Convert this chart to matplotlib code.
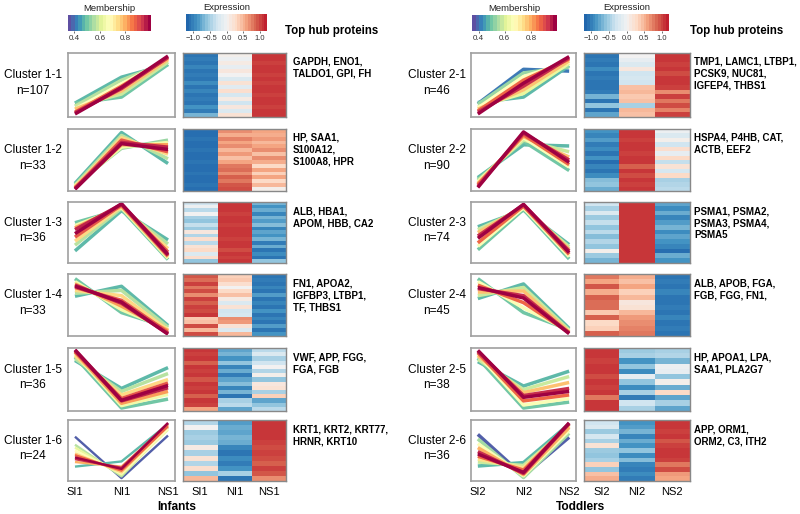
import matplotlib
matplotlib.use('Agg')
import matplotlib.pyplot as plt
import numpy as np
from matplotlib.colors import LinearSegmentedColormap, Normalize
from matplotlib.cm import ScalarMappable

plt.rcParams['font.family'] = ['Liberation Sans', 'DejaVu Sans']

# ---------------- data ----------------
conditions_infants = ['SI1', 'NI1', 'NS1']
conditions_toddlers = ['SI2', 'NI2', 'NS2']

clusters_infants = ['Cluster 1-1', 'Cluster 1-2', 'Cluster 1-3', 'Cluster 1-4', 'Cluster 1-5', 'Cluster 1-6']
n_infants = [107, 33, 36, 33, 36, 24]
hubs_infants = [
    'GAPDH, ENO1,\nTALDO1, GPI, FH',
    'HP, SAA1,\nS100A12,\nS100A8, HPR',
    'ALB, HBA1,\nAPOM, HBB, CA2',
    'FN1, APOA2,\nIGFBP3, LTBP1,\nTF, THBS1',
    'VWF, APP, FGG,\nFGA, FGB',
    'KRT1, KRT2, KRT77,\nHRNR, KRT10',
]
clusters_toddlers = ['Cluster 2-1', 'Cluster 2-2', 'Cluster 2-3', 'Cluster 2-4', 'Cluster 2-5', 'Cluster 2-6']
n_toddlers = [46, 90, 74, 45, 38, 36]
hubs_toddlers = [
    'TMP1, LAMC1, LTBP1,\nPCSK9, NUC81,\nIGFEP4, THBS1',
    'HSPA4, P4HB, CAT,\nACTB, EEF2',
    'PSMA1, PSMA2,\nPSMA3, PSMA4,\nPSMA5',
    'ALB, APOB, FGA,\nFGB, FGG, FN1,',
    'HP, APOA1, LPA,\nSAA1, PLA2G7',
    'APP, ORM1,\nORM2, C3, ITH2',
]

# membership values and scaled profiles (SI, NI, NS) of representative members
memb_1_1 = [0.47, 0.49, 0.56, 0.58, 0.68, 0.78, 0.88, 0.95, 1.0]
prof_1_1 = [[0.20, 0.63, 0.84], [0.20, 0.30, 0.84], [0.15, 0.58, 0.88], [0.15, 0.35, 0.88],
            [0.10, 0.52, 0.92], [0.10, 0.40, 0.92], [0.05, 0.48, 0.95], [0.04, 0.44, 0.96], [0.02, 0.46, 0.98]]
memb_1_2 = [0.47, 0.53, 0.56, 0.64, 0.75, 0.82, 0.90, 0.96, 1.0]
prof_1_2 = [[0.10, 0.97, 0.44], [0.08, 0.70, 0.84], [0.07, 0.92, 0.52], [0.06, 0.72, 0.80],
            [0.04, 0.88, 0.60], [0.03, 0.76, 0.76], [0.02, 0.84, 0.64], [0.01, 0.80, 0.72], [0.00, 0.78, 0.68]]
memb_1_3 = [0.47, 0.49, 0.56, 0.64, 0.75, 0.82, 0.90, 0.96, 1.0]
prof_1_3 = [[0.18, 0.88, 0.37], [0.67, 0.90, 0.03], [0.28, 0.92, 0.30], [0.62, 0.93, 0.05],
            [0.35, 0.95, 0.22], [0.58, 0.96, 0.08], [0.42, 0.98, 0.16], [0.55, 0.99, 0.10], [0.48, 1.00, 0.12]]
memb_1_4 = [0.47, 0.49, 0.56, 0.64, 0.75, 0.82, 0.90, 0.96, 1.0]
prof_1_4 = [[0.65, 0.82, 0.15], [0.95, 0.37, 0.12], [0.70, 0.75, 0.12], [0.90, 0.42, 0.09],
            [0.75, 0.66, 0.07], [0.86, 0.48, 0.06], [0.80, 0.58, 0.03], [0.84, 0.53, 0.01], [0.82, 0.55, 0.00]]
memb_1_5 = [0.47, 0.49, 0.56, 0.64, 0.75, 0.82, 0.90, 0.96, 1.0]
prof_1_5 = [[0.82, 0.35, 0.70], [0.88, 0.02, 0.17], [0.85, 0.30, 0.60], [0.93, 0.06, 0.25],
            [0.90, 0.24, 0.50], [0.96, 0.10, 0.30], [0.97, 0.18, 0.44], [0.99, 0.14, 0.36], [1.00, 0.15, 0.40]]
memb_1_6 = [0.37, 0.47, 0.56, 0.62, 0.68, 0.76, 0.80, 0.88, 0.95, 1.0]
prof_1_6 = [[0.74, 0.02, 0.76], [0.22, 0.31, 0.96], [0.60, 0.05, 0.90], [0.55, 0.08, 0.86],
            [0.50, 0.10, 0.88], [0.45, 0.12, 0.93], [0.30, 0.22, 0.95], [0.42, 0.15, 0.92],
            [0.35, 0.20, 0.97], [0.38, 0.18, 0.98]]

memb_2_1 = [0.40, 0.47, 0.53, 0.62, 0.68, 0.78, 0.88, 0.95, 1.0]
prof_2_1 = [[0.19, 0.76, 0.73], [0.21, 0.30, 0.82], [0.18, 0.70, 0.80], [0.14, 0.36, 0.86],
            [0.12, 0.64, 0.88], [0.10, 0.42, 0.90], [0.07, 0.58, 0.93], [0.05, 0.48, 0.95], [0.02, 0.53, 0.97]]
memb_2_2 = [0.47, 0.49, 0.58, 0.66, 0.78, 0.88, 0.95, 1.0]
prof_2_2 = [[0.20, 0.76, 0.74], [0.17, 0.82, 0.32], [0.15, 0.84, 0.64], [0.12, 0.88, 0.38],
            [0.10, 0.90, 0.55], [0.08, 0.93, 0.42], [0.05, 0.96, 0.50], [0.03, 0.98, 0.46]]
memb_2_3 = [0.47, 0.49, 0.58, 0.66, 0.78, 0.88, 0.95, 1.0]
prof_2_3 = [[0.60, 0.89, 0.29], [0.20, 0.90, 0.04], [0.55, 0.92, 0.25], [0.26, 0.93, 0.08],
            [0.50, 0.95, 0.21], [0.32, 0.96, 0.12], [0.44, 0.98, 0.18], [0.40, 0.99, 0.15]]
memb_2_4 = [0.47, 0.49, 0.58, 0.66, 0.78, 0.88, 0.95, 1.0]
prof_2_4 = [[0.61, 0.86, 0.10], [0.95, 0.37, 0.08], [0.66, 0.80, 0.07], [0.90, 0.45, 0.06],
            [0.72, 0.74, 0.04], [0.84, 0.54, 0.03], [0.78, 0.66, 0.02], [0.80, 0.62, 0.01]]
memb_2_5 = [0.47, 0.49, 0.58, 0.66, 0.78, 0.88, 0.95, 1.0]
prof_2_5 = [[0.80, 0.39, 0.64], [0.86, 0.02, 0.12], [0.84, 0.33, 0.55], [0.92, 0.07, 0.18],
            [0.90, 0.28, 0.45], [0.95, 0.14, 0.24], [0.97, 0.23, 0.35], [0.99, 0.20, 0.30]]
memb_2_6 = [0.37, 0.47, 0.54, 0.58, 0.66, 0.74, 0.80, 0.88, 0.95, 1.0]
prof_2_6 = [[0.78, 0.06, 0.73], [0.23, 0.29, 0.96], [0.70, 0.03, 0.80], [0.30, 0.24, 0.92],
            [0.62, 0.06, 0.85], [0.35, 0.20, 0.93], [0.55, 0.08, 0.90], [0.40, 0.16, 0.96],
            [0.48, 0.10, 0.97], [0.44, 0.12, 0.98]]

# heatmap rows (SI, NI, NS), top to bottom
heat_1_1 = [[-1.1, 0.05, 1.1], [-1.05, -0.05, 1.1], [-1.1, 0.1, 1.05], [-1.0, -0.1, 1.1],
            [-1.1, 0.15, 1.1], [-1.05, 0.0, 1.05], [-1.1, -0.2, 1.1], [-0.95, 0.2, 1.05],
            [-1.1, -0.15, 1.1], [-1.0, 0.25, 1.1], [-1.1, -0.25, 1.05], [-1.05, 0.1, 1.1],
            [-1.1, -0.3, 1.1], [-0.9, 0.15, 1.05], [-1.05, -0.2, 1.1], [-0.7, 0.2, 1.1]]
heat_1_2 = [[-1.15, 0.7, 0.6], [-1.15, 0.55, 0.55], [-1.1, 0.75, 0.65], [-1.15, 0.6, 0.5],
            [-1.15, 0.7, 0.6], [-1.1, 0.5, 0.7], [-1.15, 0.65, 0.45], [-1.15, 0.45, 0.7],
            [-1.1, 0.6, 0.55], [-1.15, 0.8, 0.3], [-1.15, 0.85, 0.6], [-1.1, 0.7, 0.35],
            [-1.15, 0.9, 0.6], [-1.15, 0.8, 0.3], [-1.1, 0.95, 0.5], [-1.15, 1.0, 0.05]]
heat_1_3 = [[-0.3, 1.1, -0.7], [-0.05, 1.1, -0.9], [-0.4, 1.1, -0.75], [0.0, 1.05, -1.0],
            [-0.5, 1.1, -0.7], [-0.6, 1.1, -0.85], [-0.35, 1.05, -0.65], [-0.55, 1.1, -1.0],
            [0.15, 1.1, -0.8], [-0.45, 1.1, -0.9], [0.25, 1.05, -0.7], [-0.4, 1.1, -1.05],
            [0.2, 1.1, -0.75], [0.3, 1.0, -1.1], [-0.2, 1.1, -0.95], [0.25, 1.05, -1.1],
            [-0.6, 1.1, -0.6]]
heat_1_4 = [[0.95, 0.35, -1.1], [0.85, 0.4, -1.05], [1.05, 0.25, -1.1], [0.8, 0.0, -1.0],
            [1.0, 0.3, -1.1], [0.7, 0.45, -0.85], [1.05, 0.1, -1.1], [0.9, -0.2, -1.0],
            [1.05, 0.2, -1.1], [1.0, -0.3, -0.9], [1.1, -0.25, -1.1], [0.4, 0.7, -1.0],
            [0.45, 0.65, -1.1], [1.0, 0.2, -0.85], [0.5, -0.2, -1.1], [1.0, 0.5, -0.9]]
heat_1_5 = [[1.1, -0.8, -0.4], [1.05, -0.7, -0.2], [1.1, -0.9, -0.5], [0.9, -0.6, -0.3],
            [1.1, -1.0, 0.0], [1.05, -0.75, -0.45], [1.1, -1.05, 0.05], [0.95, -0.8, -0.6],
            [1.1, -0.65, 0.15], [1.05, -1.0, 0.2], [1.1, -0.7, -0.5], [0.9, -1.1, 0.35],
            [1.1, -0.5, -0.8], [1.05, -0.4, -0.6], [0.6, -0.8, -0.4]]
heat_1_6 = [[-0.45, -0.85, 1.1], [0.0, -0.75, 1.1], [-0.55, -0.8, 1.1], [-0.5, -0.7, 1.1],
            [-0.55, -0.75, 1.05], [0.1, -1.0, 1.0], [-0.5, -1.1, 1.05], [0.2, -0.95, 1.0],
            [-0.45, -1.05, 0.9], [0.25, -0.9, 1.05], [-0.6, -0.5, 0.95], [0.5, -1.1, 0.7]]

heat_2_1 = [[-1.1, 0.0, 1.1], [-1.05, -0.1, 1.1], [-1.1, -0.2, 1.05], [-0.95, 0.15, 1.1],
            [-1.1, -0.3, 1.0], [-1.05, -0.25, 1.1], [-1.1, -0.3, 1.1], [-1.1, 0.45, 1.05],
            [-1.05, 0.5, 0.7], [-0.7, 0.4, 1.05], [-1.1, 0.45, 0.8], [-0.6, -0.5, 1.0],
            [-1.1, 0.5, 0.75], [-0.8, 0.45, 1.05]]
heat_2_2 = [[-0.9, 1.1, -0.05], [-1.0, 1.1, -0.2], [-0.85, 1.05, 0.05], [-1.05, 1.1, -0.3],
            [-0.95, 1.1, 0.25], [-1.1, 1.05, -0.1], [-0.9, 1.1, 0.3], [-1.15, 1.1, -0.35],
            [-1.0, 0.9, 0.2], [-1.1, 1.1, -0.25], [-0.95, 1.0, 0.3], [-0.65, 1.1, -0.5],
            [-0.6, 1.05, -0.45], [-0.75, 1.1, -0.4]]
heat_2_3 = [[-0.3, 1.1, -0.8], [-0.5, 1.1, -0.95], [-0.2, 1.1, -0.75], [-0.55, 1.1, -1.0],
            [-0.35, 1.1, -0.85], [-0.6, 1.1, -0.7], [-0.4, 1.1, -0.95], [-0.65, 1.1, -0.8],
            [-0.45, 1.1, -0.9], [-0.6, 1.1, -1.0], [0.05, 1.1, -1.15], [-0.55, 1.1, -0.75],
            [-0.7, 1.1, -0.9]]
heat_2_4 = [[0.8, 0.55, -1.1], [0.6, 0.45, -1.05], [0.95, 0.6, -1.1], [0.55, 0.35, -1.0],
            [0.9, 0.5, -1.1], [0.85, 0.15, -1.1], [0.85, 0.2, -1.05], [0.4, 0.5, -1.1],
            [0.9, 0.65, -1.0], [0.3, 0.7, -1.1], [0.35, 0.75, -1.05], [0.9, 0.8, -1.1]]
heat_2_5 = [[1.1, -0.55, -0.5], [1.1, -0.5, -0.45], [1.05, -0.9, -0.7], [1.1, -0.6, -0.05],
            [1.1, -0.95, -0.1], [1.0, -0.1, -0.6], [1.1, -0.6, 0.05], [1.05, -0.95, -0.75],
            [1.1, -0.5, 0.3], [0.8, -1.05, -0.8], [1.1, -0.3, -0.5], [1.1, -0.5, -0.8]]
heat_2_6 = [[-0.3, -0.9, 1.1], [-0.2, -0.85, 1.1], [-0.55, -0.7, 1.05], [-0.25, -1.0, 1.1],
            [-0.5, -0.75, 0.95], [0.2, -0.9, 1.05], [-0.55, -0.6, 1.1], [-0.6, -0.95, 1.1],
            [-0.5, -0.65, 1.05], [0.35, -1.0, 0.8], [-0.6, -1.05, 1.0], [0.45, -0.95, 0.65],
            [0.55, -1.05, 0.6]]

memb_infants = [memb_1_1, memb_1_2, memb_1_3, memb_1_4, memb_1_5, memb_1_6]
prof_infants = [prof_1_1, prof_1_2, prof_1_3, prof_1_4, prof_1_5, prof_1_6]
heat_infants = [heat_1_1, heat_1_2, heat_1_3, heat_1_4, heat_1_5, heat_1_6]
memb_toddlers = [memb_2_1, memb_2_2, memb_2_3, memb_2_4, memb_2_5, memb_2_6]
prof_toddlers = [prof_2_1, prof_2_2, prof_2_3, prof_2_4, prof_2_5, prof_2_6]
heat_toddlers = [heat_2_1, heat_2_2, heat_2_3, heat_2_4, heat_2_5, heat_2_6]

# ---------------- styling ----------------
W, H = 800, 514
fig = plt.figure(figsize=(8.0, 5.14), dpi=100)

def add_ax(x0, y0, x1, y1):
    return fig.add_axes([x0 / W, 1 - y1 / H, (x1 - x0) / W, (y1 - y0) / H])

memb_cmap = plt.get_cmap('Spectral_r')
memb_norm = Normalize(0.35, 1.0)
expr_cmap = LinearSegmentedColormap.from_list(
    'expr', ['#2166ac', '#4393c3', '#92c5de', '#d1e5f0', '#f2f2f2',
             '#fddbc7', '#f4a582', '#d6604d', '#c0202f'])
expr_norm = Normalize(-1.21, 1.21)

row_tops = [53, 129, 202, 274, 348, 420]
row_bots = [117, 191, 263, 336, 411, 481]
frame_col = '#a0a0a0'

def draw_block(xoff_line, xoff_heat, xtext, xlabel_c, names, ns, hubs, membs, profs, heats,
               conds, group_title, cb_m_x, cb_e_x, top_x):
    # colorbars
    cax = add_ax(cb_m_x[0], 15, cb_m_x[1], 31)
    cb = fig.colorbar(ScalarMappable(memb_norm, memb_cmap.resampled(24)), cax=cax, orientation='horizontal')
    cb.outline.set_visible(False)
    cb.set_ticks([0.4, 0.6, 0.8])
    cb.set_ticklabels(['0.4', '0.6', '0.8'])
    cax.tick_params(length=1.5, width=0.5, labelsize=5.8, pad=1.5, colors='#333333')
    cax.set_title('Membership', fontsize=6.8, pad=3, color='#222222')

    cax2 = add_ax(cb_e_x[0], 14, cb_e_x[1], 31)
    cb2 = fig.colorbar(ScalarMappable(expr_norm, expr_cmap.resampled(30)), cax=cax2, orientation='horizontal')
    cb2.outline.set_visible(False)
    cb2.set_ticks([-1.0, -0.5, 0.0, 0.5, 1.0])
    cax2.tick_params(length=1.5, width=0.5, labelsize=5.4, pad=1.5, colors='#333333')
    cax2.set_title('Expression', fontsize=6.8, pad=3, color='#222222')

    fig.text(top_x / W, 1 - 31 / H, 'Top hub proteins', fontsize=8.3, fontweight='bold',
             ha='left', va='center')

    for i in range(6):
        t, b = row_tops[i], row_bots[i]
        ax = add_ax(xoff_line[0], t, xoff_line[1], b)
        order = np.argsort(membs[i])
        lw = 1.7 if ns[i] < 30 else 2.5
        for k in order:
            ax.plot([1, 2, 3], profs[i][k], color=memb_cmap(memb_norm(membs[i][k])), lw=lw,
                    solid_capstyle='butt')
        ax.set_xlim(0.85, 3.15)
        ax.set_ylim(-0.03, 1.03)
        ax.set_yticks([])
        for s in ax.spines.values():
            s.set_color(frame_col)
            s.set_linewidth(1.2)
        if i == 5:
            ax.set_xticks([1, 2, 3])
            ax.set_xticklabels(conds, fontsize=8)
            ax.tick_params(axis='x', length=0, pad=4)
        else:
            ax.set_xticks([])

        axh = add_ax(xoff_heat[0], t, xoff_heat[1], b)
        axh.imshow(np.array(heats[i]), cmap=expr_cmap, norm=expr_norm, aspect='auto',
                   interpolation='nearest')
        axh.set_yticks([])
        for s in axh.spines.values():
            s.set_color('#888888')
            s.set_linewidth(1.0)
        if i == 5:
            axh.set_xticks([0, 1, 2])
            axh.set_xticklabels(conds, fontsize=8)
            axh.tick_params(axis='x', length=0, pad=4)
        else:
            axh.set_xticks([])

        yc = (t + b) / 2 - 2
        fig.text(xlabel_c / W, 1 - yc / H, f'{names[i]}\nn={ns[i]}', fontsize=8.6,
                 ha='center', va='center', linespacing=1.35, color='black')
        fig.text(xtext / W, 1 - (t + 4) / H, hubs[i], fontsize=7, fontweight='bold',
                 ha='left', va='top', linespacing=1.25)

    fig.text((xoff_line[0] + xoff_heat[1]) / 2 / W, 1 - 507 / H, group_title, fontsize=8.6,
             fontweight='bold', ha='center', va='center')

draw_block((68, 175), (183, 286), 293, 33, clusters_infants, n_infants, hubs_infants,
           memb_infants, prof_infants, heat_infants, conditions_infants, 'Infants',
           (68, 151), (186, 267), 285)
draw_block((471, 576), (584, 690), 694, 437, clusters_toddlers, n_toddlers, hubs_toddlers,
           memb_toddlers, prof_toddlers, heat_toddlers, conditions_toddlers, 'Toddlers',
           (472, 557), (584, 669), 690)

fig.savefig('out.png', dpi=100)
